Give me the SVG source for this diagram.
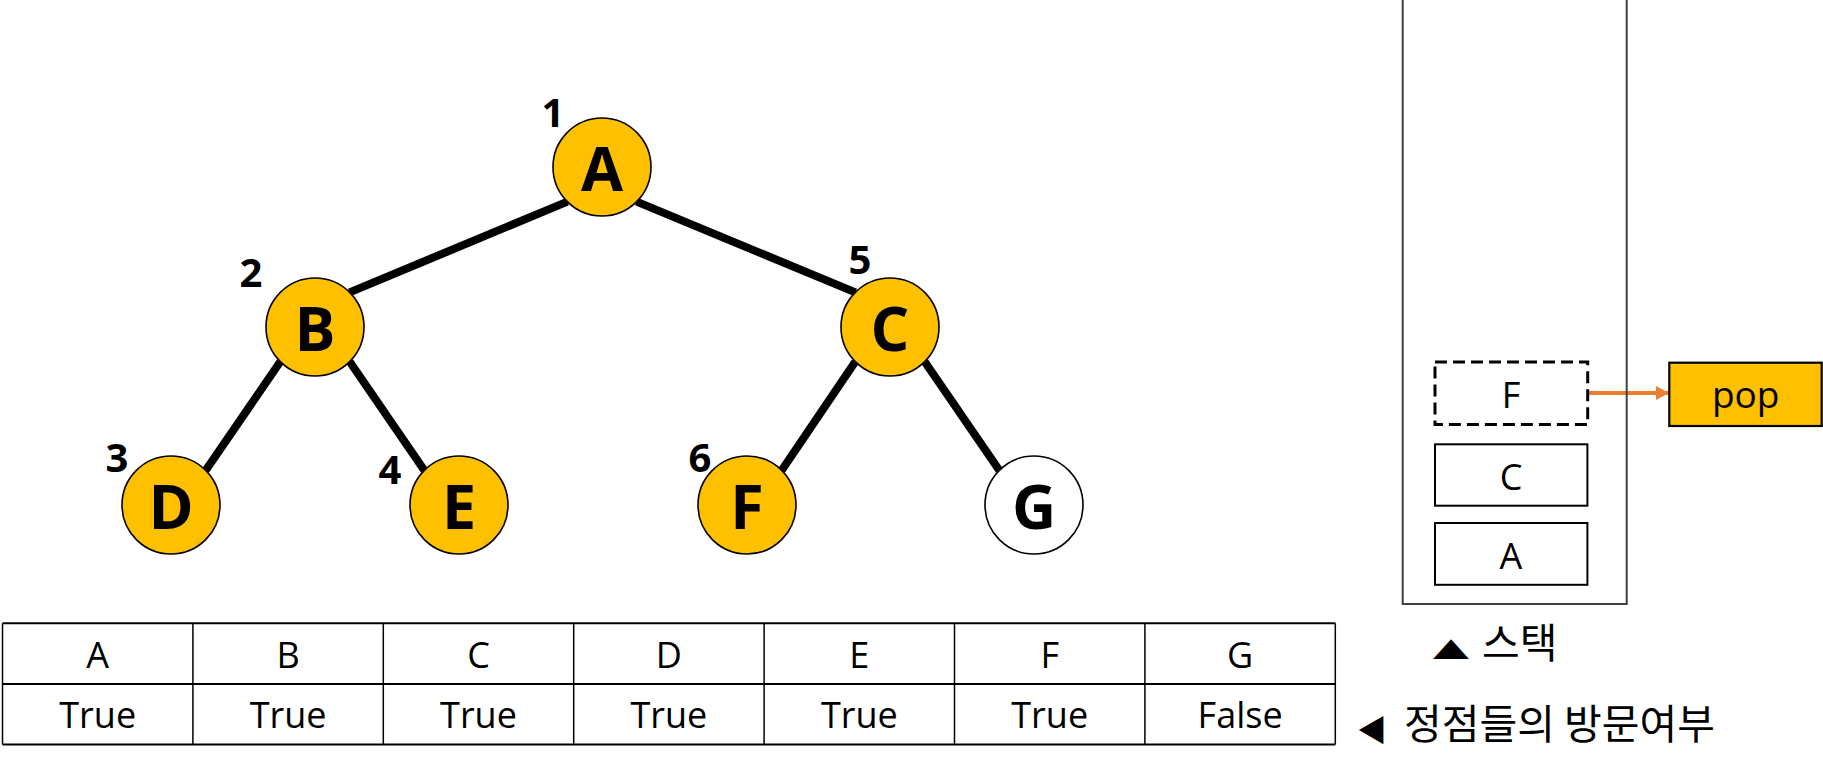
<svg xmlns="http://www.w3.org/2000/svg" width="1823" height="770" viewBox="0 0 1823 770">
  <style>
    .node circle { stroke: #000; stroke-width: 1.6; }
    .visited { fill: #FFC000; }
    .unvisited { fill: #FFFFFF; }
    .nlabel { font-family: "Open Sans", "Noto Sans CJK KR", sans-serif; font-weight: bold; font-size: 61px; text-anchor: middle; fill: #000; }
    .order { font-family: "Open Sans", "Noto Sans CJK KR", sans-serif; font-weight: bold; font-size: 40px; text-anchor: middle; fill: #000; }
    .edge { stroke: #000; stroke-width: 8; }
    .cell { font-family: "Open Sans", "Noto Sans CJK KR", sans-serif; font-size: 36px; text-anchor: middle; fill: #000; }
    .stacktxt { font-family: "Open Sans", "Noto Sans CJK KR", sans-serif; font-size: 36px; text-anchor: middle; fill: #000; }
    .kr { font-family: "Noto Sans CJK KR", sans-serif; font-size: 41px; fill: #000; }
    .box { fill: #fff; stroke: #000; stroke-width: 2; }
    .hline { stroke: #000; stroke-width: 2; }
    .vline { stroke: #000; stroke-width: 1.5; }
  </style>
  <defs>
    <marker id="arrow" markerUnits="userSpaceOnUse" markerWidth="14" markerHeight="15" refX="13" refY="7" orient="auto">
      <path d="M0,0 L13,7 L0,14 z" fill="#ED7D31"/>
    </marker>
  </defs>

  <g id="connectors">
    <line class="edge" x1="567.4" y1="201.6" x2="349.6" y2="292.4"/>
    <line class="edge" x1="636.6" y1="201.6" x2="855.4" y2="292.4"/>
    <line class="edge" x1="280.4" y1="361.6" x2="205.6" y2="470.4"/>
    <line class="edge" x1="349.6" y1="361.6" x2="424.4" y2="470.4"/>
    <line class="edge" x1="855.4" y1="361.6" x2="781.6" y2="470.4"/>
    <line class="edge" x1="924.6" y1="361.6" x2="999.4" y2="470.4"/>
    <line x1="1588" y1="393" x2="1669" y2="393" stroke="#ED7D31" stroke-width="4" marker-end="url(#arrow)"/>
  </g>

  <g id="node-A" class="node">
    <circle class="visited" cx="602" cy="167" r="49"/>
    <text class="nlabel" x="602" y="191">A</text>
    <text class="order" x="553" y="127">1</text>
  </g>
  <g id="node-B" class="node">
    <circle class="visited" cx="315" cy="327" r="49"/>
    <text class="nlabel" x="315" y="351">B</text>
    <text class="order" x="251" y="287">2</text>
  </g>
  <g id="node-C" class="node">
    <circle class="visited" cx="890" cy="327" r="49"/>
    <text class="nlabel" x="890" y="351">C</text>
    <text class="order" x="860" y="274">5</text>
  </g>
  <g id="node-D" class="node">
    <circle class="visited" cx="171" cy="505" r="49"/>
    <text class="nlabel" x="171" y="529">D</text>
    <text class="order" x="117" y="472">3</text>
  </g>
  <g id="node-E" class="node">
    <circle class="visited" cx="459" cy="505" r="49"/>
    <text class="nlabel" x="459" y="529">E</text>
    <text class="order" x="390" y="484">4</text>
  </g>
  <g id="node-F" class="node">
    <circle class="visited" cx="747" cy="505" r="49"/>
    <text class="nlabel" x="747" y="529">F</text>
    <text class="order" x="700" y="472">6</text>
  </g>
  <g id="node-G" class="node">
    <circle class="unvisited" cx="1034" cy="505" r="49"/>
    <text class="nlabel" x="1034" y="529">G</text>
  </g>

  <g id="visited-table">
    <line class="hline" x1="2.5" y1="623.3" x2="1335.3" y2="623.3"/>
    <line class="hline" x1="2.5" y1="684" x2="1335.3" y2="684"/>
    <line class="hline" x1="2.5" y1="744.5" x2="1335.3" y2="744.5"/>
    <line class="vline" x1="2.5" y1="623.3" x2="2.5" y2="744.5"/>
    <line class="vline" x1="192.9" y1="623.3" x2="192.9" y2="744.5"/>
    <line class="vline" x1="383.3" y1="623.3" x2="383.3" y2="744.5"/>
    <line class="vline" x1="573.7" y1="623.3" x2="573.7" y2="744.5"/>
    <line class="vline" x1="764.1" y1="623.3" x2="764.1" y2="744.5"/>
    <line class="vline" x1="954.5" y1="623.3" x2="954.5" y2="744.5"/>
    <line class="vline" x1="1144.9" y1="623.3" x2="1144.9" y2="744.5"/>
    <line class="vline" x1="1335.3" y1="623.3" x2="1335.3" y2="744.5"/>
    <text class="cell" x="97.7" y="667.5">A</text>
    <text class="cell" x="288.1" y="667.5">B</text>
    <text class="cell" x="478.5" y="667.5">C</text>
    <text class="cell" x="668.9" y="667.5">D</text>
    <text class="cell" x="859.3" y="667.5">E</text>
    <text class="cell" x="1049.7" y="667.5">F</text>
    <text class="cell" x="1240.1" y="667.5">G</text>
    <text class="cell" x="97.7" y="728.3">True</text>
    <text class="cell" x="288.1" y="728.3">True</text>
    <text class="cell" x="478.5" y="728.3">True</text>
    <text class="cell" x="668.9" y="728.3">True</text>
    <text class="cell" x="859.3" y="728.3">True</text>
    <text class="cell" x="1049.7" y="728.3">True</text>
    <text class="cell" x="1240.1" y="728.3">False</text>
  </g>

  <g id="stack">
    <path d="M1402.7,0 V604 H1626.7 V0" fill="none" stroke="#404040" stroke-width="2"/>
  </g>
  <g id="stack-F">
    <rect x="1435" y="362" width="152.7" height="62.5" fill="#fff" stroke="#000" stroke-width="3" stroke-dasharray="12,6"/>
    <text class="stacktxt" x="1511" y="407.5">F</text>
  </g>
  <g id="stack-C">
    <rect class="box" x="1435" y="444.3" width="152.4" height="61.4"/>
    <text class="stacktxt" x="1511" y="490">C</text>
  </g>
  <g id="stack-A">
    <rect class="box" x="1435" y="523" width="152.4" height="61.8"/>
    <text class="stacktxt" x="1511" y="569">A</text>
  </g>
  <g id="pop">
    <rect x="1669.3" y="362.7" width="152.4" height="63.3" fill="#FFC000" stroke="#000" stroke-width="2.2"/>
    <text class="stacktxt" x="1745.7" y="408.3" style="font-size:37px">pop</text>
  </g>

  <g id="stack-caption">
    <text class="kr" transform="translate(1451,659) scale(1,0.64)" x="0" y="0" text-anchor="middle" style="font-size:38px">▲</text>
    <text class="kr" x="1482" y="658">스택</text>
  </g>
  <g id="table-caption">
    <text class="kr" x="1372" y="741" text-anchor="middle" style="font-size:30px">◀</text>
    <text class="kr" x="1404" y="739">정점들의 방문여부</text>
  </g>
</svg>
